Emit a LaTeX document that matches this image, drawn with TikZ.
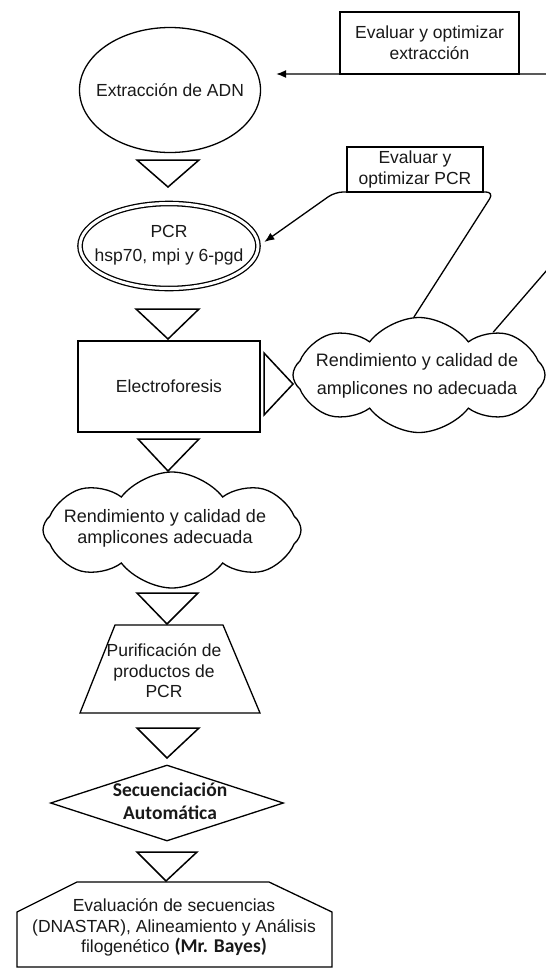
\documentclass[tikz,border=0pt]{standalone}
\usepackage{fontspec}
\setmainfont{Liberation Sans}
\newfontfamily\carlito{Carlito}
\usetikzlibrary{shapes.geometric,shapes.symbols,arrows.meta,calc}
\newcommand\mainfs{\fontsize{17.5}{21}\selectfont}
\newcommand\boldfs{\carlito\bfseries\fontsize{19.5}{23}\selectfont}
\tikzset{
  shp/.style={draw, line width=1.3pt, inner sep=0pt, fill=none},
  txt/.style={font=\mainfs, align=center, inner sep=0pt, text=black!90},
  flowtri/.style={draw, line width=1.5pt, line join=miter},
  conn/.style={draw, line width=1.3pt},
  tip/.style={-{Latex[length=10pt,width=8pt]}},
  puffy/.style={shp, cloud, cloud puffs=8, cloud puff arc=105, aspect=2.2}
}
\begin{document}
\begin{tikzpicture}[x=1pt,y=-1pt]
\useasboundingbox (0,0) rectangle (546,969);
\clip (0,0) rectangle (546,969);
\fill[white] (0,0) rectangle (546,969);

% main shapes
\node[shp, ellipse, minimum width=181pt, minimum height=125pt] (ext) at (170,90) {};
\node[txt] (extt) at (ext) {Extracción de ADN};

\node[shp, rectangle, minimum width=179pt, minimum height=62pt] (evx) at (429.5,43) {};
\node[txt] (evxt) at (evx) {Evaluar y optimizar\\extracción};

\node[shp, ellipse, double, double distance=3pt, minimum width=178pt, minimum height=85pt] (pcr) at (169,246) {};
\node[txt] (pcrt) at (169,245) {PCR\\[3pt]hsp70, mpi y 6-pgd};

\node[shp, rectangle, minimum width=136pt, minimum height=45pt] (evp) at (415,169.5) {};
\node[txt] (evpt) at (evp) {Evaluar y\\optimizar PCR};

\node[shp, rectangle, minimum width=182pt, minimum height=91pt] (elec) at (169,386.5) {};
\node[txt] (elect) at (elec) {Electroforesis};

\node[puffy, minimum width=252pt, minimum height=115pt] (cna) at (419,375) {};
\node[txt, font=\fontsize{18}{28}\selectfont] (cnat) at (417,376) {Rendimiento y calidad de\\amplicones no adecuada};

\node[puffy, minimum width=258pt, minimum height=116pt] (ca) at (172,530) {};
\node[txt, font=\fontsize{18}{21}\selectfont] (cat) at (165,528) {Rendimiento y calidad de\\amplicones adecuada};

\node[txt, font=\fontsize{17.5}{20.5}\selectfont] (pur) at (164,671) {Purificación de\\productos de\\PCR};
\draw[shp] (115,625) -- (223,625) -- (260,713) -- (80,713) -- cycle;

\node[shp, diamond, minimum width=233pt, minimum height=76pt] (seq) at (167,803) {};
\node[txt, font=\boldfs] (seqt) at (170,801.5) {Secuenciación\\Automática};

\draw[shp] (77,882) -- (269,882) -- (332,912) -- (332,967) -- (17,967) -- (17,912) -- cycle;
\node[txt, font=\fontsize{17.5}{20.5}\selectfont] (fin) at (174,927.5)
  {Evaluación de secuencias\\(DNASTAR), Alineamiento y Análisis\\filogenético {\boldfs (Mr. Bayes)}};

% flow triangles
\draw[flowtri] (137,160) -- (199,160) -- (168,187) -- cycle;
\draw[flowtri] (136,309) -- (199,309) -- (168,339) -- cycle;
\draw[flowtri] (138,439) -- (199,439) -- (168,471) -- cycle;
\draw[flowtri] (137,593) -- (198,593) -- (167,624) -- cycle;
\draw[flowtri] (137,728) -- (199,728) -- (167,758) -- cycle;
\draw[flowtri] (137,852) -- (197,852) -- (166,881) -- cycle;
\draw[flowtri] (264,353) -- (264,415) -- (293,384) -- cycle;

% feedback connectors
\coordinate (c1) at (494,192);
\coordinate (c2) at (335,192);
\coordinate (c3) at (592,218);
\coordinate (c4) at (592,74);
\draw[conn, tip, rounded corners=8pt, shorten >=7pt] (cna.95) -- (c1) -- (c2) -- (pcr.east);
\draw[conn, tip, shorten >=15pt] (cna.30) -- (c3) -- (c4) -- (c4 -| ext.east);
\end{tikzpicture}
\end{document}
